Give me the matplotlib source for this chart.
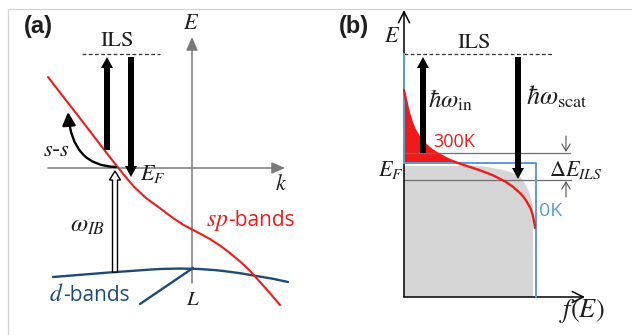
import matplotlib.pyplot as plt
from matplotlib.path import Path
from matplotlib.patches import PathPatch, FancyArrow, FancyArrowPatch

plt.rcParams['mathtext.fontset'] = 'stix'

RED = '#f01a1a'
DBLUE = '#1f4a78'
LBLUE = '#5b9bd5'
AXGRAY = '#7a7a7a'
INK = '#1e1e1e'

# panel (a): band structure, coordinates in pixels (y down)
sp_band = [(48, 77), (83, 122), (118, 168), (140, 194), (160, 208), (178, 222),
           (195, 231), (214, 241), (234, 256), (254, 274), (280, 305)]
d_band = [(53, 277), (113, 272), (190, 267), (257, 275), (288, 282)]
d_branch = [(193, 268), (140, 304)]
ss_arc = [(116, 167), (72, 166), (68, 112)]

# panel (b): occupation, coordinates in pixels (y down)
fermi_300k = [(404, 90), (406, 100), (410, 118), (416, 133), (426, 146), (441, 156),
              (457, 163), (477, 169), (500, 178), (518, 190), (529, 204), (534, 218),
              (535, 228)]
fermi_0k = [(404, 54), (404, 163), (536, 163), (536, 297)]
occupied_corner = [(480, 166), (512, 170), (528, 184), (533, 206)]
occupied_box = (404, 166, 533, 297)


def smooth(pts):
    verts = [pts[0]]
    codes = [Path.MOVETO]
    if len(pts) == 2:
        return verts + [pts[1]], codes + [Path.LINETO]
    for i in range(1, len(pts) - 1):
        if i == len(pts) - 2:
            end = pts[-1]
        else:
            end = ((pts[i][0] + pts[i + 1][0]) / 2, (pts[i][1] + pts[i + 1][1]) / 2)
        verts += [pts[i], end]
        codes += [Path.CURVE3, Path.CURVE3]
    return verts, codes


def curve(ax, pts, **kw):
    v, c = smooth(pts)
    ax.add_patch(PathPatch(Path(v, c), fill=False, capstyle='round', **kw))


def big_arrow(ax, x, y0, y1, fc='k', ec='k', lw=0.0, width=6, hw=12, hl=11):
    ax.add_patch(FancyArrow(x, y0, 0, y1 - y0, width=width, head_width=hw,
                            head_length=hl, length_includes_head=True,
                            fc=fc, ec=ec, lw=lw, zorder=6))


fig = plt.figure(figsize=(6.32, 3.35), dpi=100)
ax = fig.add_axes([0, 0, 1, 1])
ax.set_xlim(0, 632)
ax.set_ylim(335, 0)
ax.axis('off')

# frame lines
ax.plot([8, 632], [9, 9], color='#d4d4d4', lw=0.9)
ax.plot([8, 8], [9, 335], color='#d4d4d4', lw=0.9)

# ---------- (a) ----------
ax.add_patch(FancyArrowPatch((192, 283), (192, 37), arrowstyle='-|>,head_length=0.8,head_width=0.35',
                             mutation_scale=10, lw=1.1, color=AXGRAY, shrinkA=0, shrinkB=0))
ax.add_patch(FancyArrowPatch((48, 168), (285, 168), arrowstyle='-|>,head_length=0.8,head_width=0.35',
                             mutation_scale=10, lw=1.1, color=AXGRAY, shrinkA=0, shrinkB=0))
ax.plot([82, 160], [54, 54], ls=(0, (3, 2)), color='#333333', lw=0.9)

curve(ax, d_band, color=DBLUE, lw=1.7, zorder=3)
curve(ax, d_branch, color=DBLUE, lw=1.7, zorder=3)
curve(ax, sp_band, color=RED, lw=1.5, zorder=4)

# s-s scattering arc
v, c = smooth(ss_arc)
ax.add_patch(FancyArrowPatch(path=Path(v, c), arrowstyle='-|>,head_length=0.8,head_width=0.4',
                             mutation_scale=10, lw=1.7, color='k', zorder=5))

big_arrow(ax, 107, 150, 57)
big_arrow(ax, 131, 57, 177)
big_arrow(ax, 115, 272, 171, fc='white', ec='k', lw=1.0, width=5, hw=11, hl=9)

serif = 'STIXGeneral'
ax.text(38, 27, '(a)', fontsize=17, fontweight='bold', family='Liberation Sans', color=INK, ha='center', va='center')
ax.text(191, 23, '$E$', fontsize=16, color=INK, ha='center', va='center')
ax.text(117, 41, 'ILS', fontsize=16, family=serif, color=INK, ha='center', va='center')
ax.text(56, 150, '$s$-$s$', fontsize=16, color=INK, ha='center', va='center')
ax.text(153, 174, '$E_F$', fontsize=16, color=INK, ha='center', va='center')
ax.text(281, 184, '$k$', fontsize=16, color=INK, ha='center', va='center')
ax.text(88, 225, r'$\omega_{IB}$', fontsize=18, color=INK, ha='center', va='center')
ax.text(193, 299, '$L$', fontsize=15, color=INK, ha='center', va='center')
ax.text(228, 226, '$sp$', fontsize=17, color=RED, ha='right', va='baseline')
ax.text(228, 226, '-bands', fontsize=15, family='Open Sans', color=RED, ha='left', va='baseline')
ax.text(63, 301, '$d$', fontsize=17, color=DBLUE, ha='right', va='baseline')
ax.text(63, 301, '-bands', fontsize=15, family='Open Sans', color=DBLUE, ha='left', va='baseline')

# ---------- (b) ----------
x0, y0, x1, y1 = occupied_box
v, c = smooth(occupied_corner)
c[0] = Path.LINETO
verts = [(x0, y0)] + v + [(x1, y1), (x0, y1), (x0, y0)]
codes = [Path.MOVETO] + c + [Path.LINETO, Path.LINETO, Path.CLOSEPOLY]
ax.add_patch(PathPatch(Path(verts, codes), fc='#d6d6d6', ec='none', zorder=1))

v, c = smooth(fermi_300k[:7])
ax.add_patch(PathPatch(Path(v + [(404, 163), (404, 90)], c + [Path.LINETO, Path.CLOSEPOLY]),
                       fc=RED, ec='none', zorder=2))

ax.plot([404, 570], [153, 153], color='#6e6e6e', lw=0.9, zorder=3)
ax.plot([404, 571], [180, 180], color='#6e6e6e', lw=0.9, zorder=3)
ax.plot([404, 554], [54, 54], ls=(0, (3, 2)), color='#333333', lw=0.9)
ax.plot(*zip(*fermi_0k), color=LBLUE, lw=1.4, zorder=4)

ax.add_patch(FancyArrowPatch((404, 297), (404, 10), arrowstyle='->,head_length=0.8,head_width=0.4',
                             mutation_scale=10, lw=1.1, color='k', shrinkA=0, shrinkB=0, zorder=3))
ax.add_patch(FancyArrowPatch((404, 297), (585, 297), arrowstyle='->,head_length=0.8,head_width=0.4',
                             mutation_scale=10, lw=1.1, color='k', shrinkA=0, shrinkB=0, zorder=3))
ax.plot([404, 404], [54, 163], color=LBLUE, lw=1.4, zorder=4)

curve(ax, fermi_300k, color=RED, lw=1.7, zorder=5)

big_arrow(ax, 423, 153, 57)
big_arrow(ax, 518, 57, 179)

ax.add_patch(FancyArrowPatch((566, 136), (566, 152), arrowstyle='->,head_length=0.5,head_width=0.3',
                             mutation_scale=10, lw=0.8, color='#555555', shrinkA=0, shrinkB=0))
ax.add_patch(FancyArrowPatch((566, 197), (566, 181), arrowstyle='->,head_length=0.5,head_width=0.3',
                             mutation_scale=10, lw=0.8, color='#555555', shrinkA=0, shrinkB=0))

ax.text(354, 27, '(b)', fontsize=17, fontweight='bold', family='Liberation Sans', color=INK, ha='center', va='center')
ax.text(392, 36, '$E$', fontsize=16, color=INK, ha='center', va='center')
ax.text(474, 43, 'ILS', fontsize=16, family=serif, color=INK, ha='center', va='center')
ax.text(428, 100, r'$\hbar\omega_{\mathrm{in}}$', fontsize=18, color=INK, ha='left', va='center')
ax.text(526, 97, r'$\hbar\omega_{\mathrm{scat}}$', fontsize=19, color=INK, ha='left', va='center')
ax.text(433, 142, '300K', fontsize=13, family='Open Sans', color=RED, ha='left', va='center')
ax.text(391, 170, '$E_F$', fontsize=16, color=INK, ha='center', va='center')
ax.text(549, 170, r'$\Delta E_{ILS}$', fontsize=16, color=INK, ha='left', va='center')
ax.text(539, 211, '0K', fontsize=14, family='Open Sans', color=LBLUE, ha='left', va='center')
ax.text(582, 311, '$f(E)$', fontsize=19, color=INK, ha='center', va='center')

fig.savefig('out.png', dpi=100)
